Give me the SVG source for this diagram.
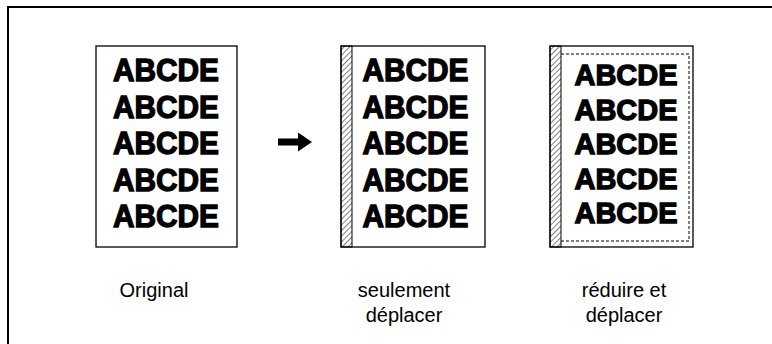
<svg xmlns="http://www.w3.org/2000/svg" width="772" height="344" viewBox="0 0 772 344">
<defs>
<pattern id="hatch" patternUnits="userSpaceOnUse" width="4" height="4" patternTransform="rotate(45)">
<line x1="0" y1="0" x2="0" y2="4" stroke="#000" stroke-width="1"/>
</pattern>
<style>
.page{fill:#fff;stroke:#000;stroke-width:1.3}
.big{font-family:"Liberation Sans",Arial,sans-serif;font-weight:bold;font-size:31px;fill:#000;stroke:#000;stroke-width:1.3;text-anchor:middle}
.small{font-size:29px}
.lbl{font-family:"Liberation Sans",Arial,sans-serif;font-size:20px;fill:#000;text-anchor:middle}
.strip{fill:url(#hatch);stroke:#000;stroke-width:1}
.dash{fill:none;stroke:#000;stroke-width:1;stroke-dasharray:3 2}
</style>
</defs>
<rect width="772" height="344" fill="#fff"/>
<g id="frame"><path d="M8 344V7H772" fill="none" stroke="#000" stroke-width="2"/></g>

<g id="original">
<rect class="page" x="96" y="46" width="141" height="201"/>
<text class="big" x="166" y="81" textLength="106" lengthAdjust="spacingAndGlyphs">ABCDE</text>
<text class="big" x="166" y="117.5" textLength="106" lengthAdjust="spacingAndGlyphs">ABCDE</text>
<text class="big" x="166" y="154" textLength="106" lengthAdjust="spacingAndGlyphs">ABCDE</text>
<text class="big" x="166" y="190.5" textLength="106" lengthAdjust="spacingAndGlyphs">ABCDE</text>
<text class="big" x="166" y="227" textLength="106" lengthAdjust="spacingAndGlyphs">ABCDE</text>
</g>

<g id="shift-only">
<rect class="page" x="341" y="46" width="144" height="201"/>
<rect class="strip" x="341" y="46" width="11" height="201"/>
<text class="big" x="415.5" y="81" textLength="106" lengthAdjust="spacingAndGlyphs">ABCDE</text>
<text class="big" x="415.5" y="117.5" textLength="106" lengthAdjust="spacingAndGlyphs">ABCDE</text>
<text class="big" x="415.5" y="154" textLength="106" lengthAdjust="spacingAndGlyphs">ABCDE</text>
<text class="big" x="415.5" y="190.5" textLength="106" lengthAdjust="spacingAndGlyphs">ABCDE</text>
<text class="big" x="415.5" y="227" textLength="106" lengthAdjust="spacingAndGlyphs">ABCDE</text>
</g>

<g id="reduce-shift">
<rect class="page" x="550" y="46" width="143" height="201"/>
<rect class="strip" x="550" y="46" width="11" height="201"/>
<path class="dash" d="M561 54H689V241H561"/>
<text class="big small" x="626" y="85" textLength="103" lengthAdjust="spacingAndGlyphs">ABCDE</text>
<text class="big small" x="626" y="119.5" textLength="103" lengthAdjust="spacingAndGlyphs">ABCDE</text>
<text class="big small" x="626" y="154" textLength="103" lengthAdjust="spacingAndGlyphs">ABCDE</text>
<text class="big small" x="626" y="188.5" textLength="103" lengthAdjust="spacingAndGlyphs">ABCDE</text>
<text class="big small" x="626" y="223" textLength="103" lengthAdjust="spacingAndGlyphs">ABCDE</text>
</g>

<g id="connectors">
<path d="M278 138.5H298V132.5L312 142L298 151.5V145.5H278Z" fill="#000"/>
</g>

<g id="labels">
<text class="lbl" x="154" y="297">Original</text>
<text class="lbl" x="404" y="297">seulement</text>
<text class="lbl" x="404" y="322">déplacer</text>
<text class="lbl" x="624" y="297">réduire et</text>
<text class="lbl" x="624" y="322">déplacer</text>
</g>
</svg>
